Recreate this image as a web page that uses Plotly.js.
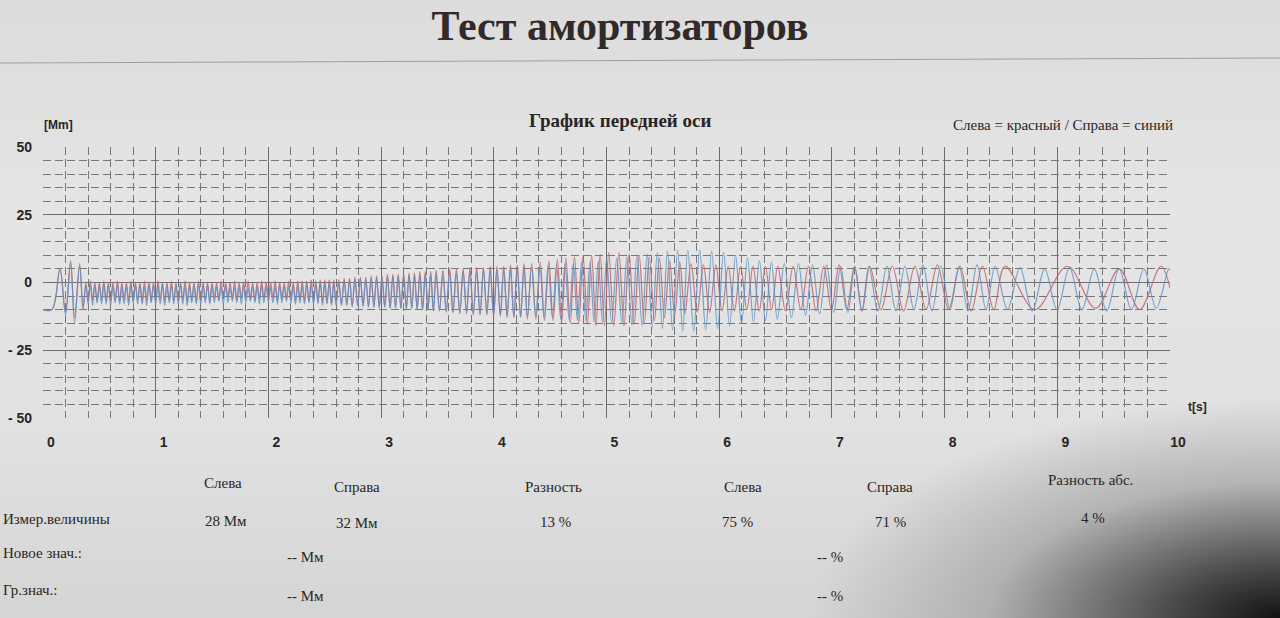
<!DOCTYPE html>
<html>
<head>
<meta charset="utf-8">
<script src="https://cdn.plot.ly/plotly-3.0.1.min.js"></script>
<style>
html,body{margin:0;padding:0;}
body{width:1280px;height:618px;overflow:hidden;
background:
 radial-gradient(ellipse 470px 220px at 100% 100%, rgba(18,18,18,1) 0%, rgba(55,55,55,0.9) 22%, rgba(140,140,140,0.5) 62%, rgba(210,210,210,0) 100%),
 linear-gradient(180deg, #dcdcdc 0%, #e5e5e5 35%, #e1e1e1 70%, #d5d5d5 100%);}
#chart{width:1280px;height:618px;}
</style>
</head>
<body>
<div id="chart"></div>
<script>
// ---------------- DATA ----------------
// start transient (both wheels)
const tStart = [0, 0.08, 0.15, 0.20, 0.245, 0.28, 0.325, 0.355];
const leftStart = [-10, -10, 5, -11, 8, -13, 7, -10];
const rightStart = [-10, -10, 5, -12, 7, -15, 6, -9];

// shared extrema times 0.38 .. 4.298 s (peaks / troughs alternate)
const tShared = [
0.38,0.40,0.42,0.44,0.46,0.48,0.50,0.52,0.54,0.56,0.58,0.60,0.62,0.64,0.66,0.68,0.70,0.72,0.74,0.76,0.78,0.80,0.82,0.84,0.86,0.88,0.90,0.92,0.94,0.96,0.98,1.00,1.02,1.04,1.06,1.08,1.10,1.12,1.14,1.16,1.18,1.20,1.22,1.24,1.26,1.28,1.30,1.32,1.34,1.36,1.38,1.40,1.42,1.44,1.46,1.48,1.50,
1.52,1.54,1.56,1.58,1.60,1.62,1.64,1.66,1.68,1.70,1.72,1.74,1.76,1.78,1.80,1.82,1.84,1.86,1.88,1.90,1.92,1.94,1.96,1.98,2.00,2.02,2.04,2.06,2.08,2.10,2.12,2.14,2.16,2.18,2.20,2.22,2.24,2.26,2.28,2.30,2.32,2.34,2.36,2.38,2.40,2.42,2.44,2.46,2.48,2.50,2.52,2.54,2.56,2.58,2.60,
2.624,2.648,2.672,2.696,2.720,2.744,2.768,2.792,2.816,2.840,2.864,2.888,2.912,2.936,2.960,2.984,3.008,3.032,3.056,3.080,3.104,3.128,3.152,3.176,3.200,3.224,3.248,3.272,3.296,3.320,3.344,3.368,3.392,3.416,3.440,3.464,3.488,
3.518,3.548,3.578,3.608,3.638,3.668,3.698,3.728,3.758,3.788,3.818,3.848,3.878,3.908,3.938,3.968,3.998,4.028,4.058,4.088,4.118,4.148,4.178,4.208,4.238,4.268,4.298];

const leftShared = [
0,-7, 0.5,-6.5, 0,-7, 0,-6.5, 0.5,-7, 0,-7, 0,-6.5, 0.5,-7, 0,-6.5, 0,-7, 0.5,-7, 0,-6.5, 0,-7, 0.5,-6.5, 0,-7, 0,-7, 0.5,-6.5, 0,-7, 0,-6.5, 0.5,-7, 0,-7, 0,-6.5, 0.5,-7, 0,-6.5, 0,-7, 0.5,-7, 0,-6.5, 0,-7, 0,
-6,0, -6.5,0.5, -6,0, -5.5,0, -6,0.5, -6.5,0, -6,0, -5.5,0.5, -6,0, -6.5,0, -6,0.5, -6,0, -5.5,0, -6,0.5, -6.5,0, -6,0, -6,0.5, -6.5,0, -7,0.5, -6.5,0.5, -7,0.5, -7,1, -7.5,0.5, -7,1, -7.5,1, -7.5,1, -8,1, -7.5,
1,-8, 1.5,-8, 1.5,-8.5, 2,-8.5, 2,-8.5, 2,-9, 2.5,-9, 2.5,-9, 2.5,-9, 3,-9.5, 3,-9, 3,-9.5, 3.5,-9.5, 3.5,-9.5, 3.5,-10, 4,-10, 4,-10, 4,-10.5, 4.5,
-10.5,4.5, -11,5, -11,5, -11.5,5, -11.5,5.5, -12,5.5, -12,5.5, -12,6, -12.5,6, -12.5,6, -13,6.5, -13,6.5, -13,7, -13.5];

const rightShared = [
-1,-8, -0.5,-8.5, -1,-7.5, -1.5,-8, -0.5,-8, -1,-8.5, -1,-7.5, -0.5,-8, -1.5,-8, -1,-8.5, -0.5,-7.5, -1,-8, -1,-8, -1.5,-8.5, -0.5,-7.5, -1,-8, -1,-8, -0.5,-8.5, -1.5,-7.5, -1,-8, -1,-8, -0.5,-8, -1,-8.5, -1.5,-7.5, -1,-8, -0.5,-8, -1,-7.5, -1,-8, -1,
-7.5,-1.5, -7,-1.5, -8,-1, -7.5,-2, -7,-1.5, -7.5,-1.5, -8,-1, -7.5,-2, -7,-1.5, -7.5,-1.5, -8,-1, -7.5,-1.5, -7,-2, -7.5,-1.5, -8,-1, -7.5,-1.5, -7,-1.5, -7.5,-1, -8,-1.5, -7.5,-1, -8,-0.5, -7.5,-1, -8,-0.5, -8,0, -8.5,-0.5, -8,0, -8.5,0, -8.5,
0,-8.5, 0.5,-8.5, 0.5,-9, 1,-8.5, 1,-9, 1,-9, 1.5,-9, 1.5,-9.5, 1.5,-9, 2,-9.5, 2,-9.5, 2,-9.5, 2,-10, 2.5,-9.5, 2.5,-10, 2.5,-10, 3,-10, 3,-10.5, 3,
-10.5,3, -10.5,3.5, -11,3.5, -11,4, -11,4, -11.5,4, -11.5,4.5, -11.5,4.5, -12,4.5, -12,5, -12,5, -12.5,5, -12.5,5.5, -12.5];

// Right wheel (blue) after 4.3 s
const tRightLate = [
4.335,4.372,4.409,4.446,4.483,4.520,4.557,4.594,4.631,4.668,4.705,4.742,4.779,4.816,4.853,4.890,4.927,4.964,5.001,
5.046,5.091,5.136,5.181,5.226,5.271,5.316,5.361,5.406,5.451,5.496,5.541,5.586,5.631,5.676,5.721,
5.774,5.827,5.880,5.933,5.986,6.039,6.092,6.145,6.198,6.251,6.304,6.357,6.410,6.463,6.516,
6.578,6.641,6.703,6.766,6.828,6.891,6.953,7.016,7.078,7.141,7.203,7.266,7.328,
7.408,7.488,7.568,7.648,7.728,7.808,7.888,7.968,8.048,8.128,8.208,8.288,8.368,8.448,
8.558,8.668,8.778,8.888,8.998,9.108,9.218,9.328,9.438,9.548,9.658,9.768,9.878,9.988,10.0];
const rightLate = [
5.5,-12.5, 6,-13, 6,-13, 6.5,-13.5, 7,-13.5, 7,-14, 7.5,-14, 7.5,-14.5, 8,-14.5, 8.5,
-15,9, -15,9.5, -15.5,10, -16,10.5, -16.5,11, -17,11.5, -17.5,12, -18,12,
-18,12, -17.5,11.5, -17,11, -16,10, -15,9, -14.5,8, -14,7.5, -13.5,
7,-13, 7,-12, 6.5,-11.5, 6.5,-11, 6,-11, 6,-10.5, 6,
-10.5,6, -10.5,6, -10,6.5, -10.5,6, -10,6, -10.5,6.5, -10,6,
-10,5.5, -10.5,5, -10,5.5, -10,5, -10.5,5, -10,5, -9.5,5, 4.5];

// Left wheel (red) after 4.3 s
const tLeftLate = [
4.336,4.374,4.412,4.450,4.488,4.526,4.564,4.602,4.640,4.678,4.716,4.754,4.792,4.830,4.868,4.906,4.944,4.982,5.020,
5.065,5.110,5.155,5.200,5.245,5.290,5.335,5.380,5.425,5.470,5.515,5.560,5.605,5.650,5.695,
5.750,5.805,5.860,5.915,5.970,6.025,6.080,6.135,6.190,6.245,6.300,6.355,6.410,6.465,6.520,
6.588,6.656,6.724,6.792,6.860,6.928,6.996,7.064,7.132,7.200,7.268,7.336,
7.436,7.536,7.636,7.736,7.836,7.936,8.036,8.136,8.236,8.336,8.436,8.536,
8.80,9.09,9.34,9.55,9.73,9.92,10.0];
const leftLate = [
7,-13.5, 7.5,-14, 8,-14, 8.5,-14.5, 9,-15, 9.5,-15, 10,-15.5, 10,-16, 10.5,-16, 11,
-16,11, -16,10.5, -15.5,10, -15,9.5, -14,9, -13,8, -12,7.5, -11.5,
7,-11, 6.5,-11, 6.5,-10.5, 6,-10.5, 6,-10, 6,-10.5, 6,-10, 6,
-10.5,6, -10,6, -10.5,6, -10,6.5, -10,6, -10.5,6,
-10,6, -10.5,6, -10,6.5, -10,6, -10.5,6, -10,6,
-10,6, -9.5,5, -10,6, -2];

const xTickVals = [0,1,2,3,4,5,6,7,8,9,10];
const yTickVals = [-50,-25,0,25,50];
const yTickText = ['- 50','- 25','0','25','50'];

const seriesNames = ['Слева', 'Справа'];
const tableHeaders = ['Слева','Справа','Разность','Слева','Справа','Разность абс.'];
const tableValues = ['28 Мм','32 Мм','13 %','75 %','71 %','4 %'];
const rowLabels = ['Измер.величины','Новое знач.:','Гр.знач.:'];
const newValues = ['-- Мм','-- %'];
const limitValues = ['-- Мм','-- %'];

// ---------------- LAYOUT / STYLE ----------------
const M = {l:43, r:110, t:147, b:200};
const W = 1280, H = 618;
const PW = W - M.l - M.r, PH = H - M.t - M.b;
const px = x => (x - M.l) / PW;
const py = y => (H - M.b - y) / PH;

const serif = 'Liberation Serif, Times New Roman, serif';
const sans = 'Liberation Sans, Arial, sans-serif';
const ink = '#2a2525';

const xRight = [].concat(tStart, tShared, tRightLate);
const yRight = [].concat(rightStart, rightShared, rightLate);
const xLeft = [].concat(tStart, tShared, tLeftLate);
const yLeft = [].concat(leftStart, leftShared, leftLate);

const traces = [
  {x:xLeft, y:yLeft, name:seriesNames[0], type:'scatter', mode:'lines',
   line:{color:'rgba(190,100,108,0.85)', width:1.2, shape:'spline', smoothing:1, simplify:false}, hoverinfo:'skip'},
  {x:xRight, y:yRight, name:seriesNames[1], type:'scatter', mode:'lines',
   line:{color:'rgba(95,145,195,0.8)', width:1.2, shape:'spline', smoothing:1, simplify:false}, hoverinfo:'skip'}
];

const ann = [];
function txt(text, x, y, size, family, opts) {
  ann.push(Object.assign({text:text, xref:'paper', yref:'paper', x:px(x), y:py(y),
    showarrow:false, xanchor:'center', yanchor:'middle',
    font:{family:family, size:size, color:ink}}, opts||{}));
}
txt('[Mm]', 58, 125, 12, sans, {font:{family:sans, size:12, color:ink, weight:700}});
txt('График передней оси', 620, 120, 19, serif, {font:{family:serif, size:19, color:ink, weight:700}});
txt('Слева = красный / Справа = синий', 1175, 125, 15, serif, {xanchor:'right'});
txt('t[s]', 1197, 407, 12, sans, {font:{family:sans, size:12, color:ink, weight:700}});

const hdrX = [223, 357, 553, 743, 890, 1090];
const hdrY = [483, 487, 487, 487, 487, 480];
const valX = [226, 357, 555, 737, 890, 1093];
const valY = [521, 523, 522, 522, 522, 518];
tableHeaders.forEach((h,i)=>txt(h, hdrX[i], hdrY[i], 15, serif));
tableValues.forEach((v,i)=>txt(v, valX[i], valY[i], 15, serif));
txt(rowLabels[0], 1, 519, 15, serif, {xanchor:'left'});
txt(rowLabels[1], 1, 553, 15, serif, {xanchor:'left'});
txt(rowLabels[2], 1, 590, 15, serif, {xanchor:'left'});
txt(newValues[0], 305, 557, 15, serif);
txt(newValues[1], 830, 557, 15, serif);
txt(limitValues[0], 305, 596, 15, serif);
txt(limitValues[1], 830, 596, 15, serif);

const gridDash = '8px,4px';
const layout = {
  width:W, height:H,
  margin:M,
  paper_bgcolor:'rgba(0,0,0,0)',
  plot_bgcolor:'rgba(0,0,0,0)',
  showlegend:false,
  title:{text:'Тест амортизаторов', x:620/W, xanchor:'center', y:1-25/H, yanchor:'middle', yref:'container',
         font:{family:serif, size:42, color:'#322a2a', weight:700}},
  xaxis:{range:[0,10], tickmode:'array', tickvals:xTickVals, ticktext:xTickVals.map(String),
         showgrid:true, gridcolor:'#6e6e6e', gridwidth:1, zeroline:false, showline:false, ticks:'',
         tickfont:{family:sans, size:14, color:ink, weight:700},
         ticklabelshift:8, ticklabelstandoff:14, fixedrange:true,
         minor:{dtick:0.2, tick0:0, showgrid:true, gridcolor:'#777777', griddash:gridDash, gridwidth:1}},
  yaxis:{range:[-50,50], tickmode:'array', tickvals:yTickVals, ticktext:yTickText,
         showgrid:true, gridcolor:'#6e6e6e', gridwidth:1, zeroline:false, showline:false, ticks:'',
         tickfont:{family:sans, size:14, color:ink, weight:700},
         ticklabelstandoff:10, fixedrange:true,
         minor:{dtick:5, tick0:0, showgrid:true, gridcolor:'#777777', griddash:gridDash, gridwidth:1}},
  annotations:ann,
  shapes:[{type:'line', xref:'paper', yref:'paper', x0:px(0), x1:px(1280), y0:py(63), y1:py(58),
           line:{color:'#a0a0a0', width:1}}]
};

Plotly.newPlot('chart', traces, layout, {displayModeBar:false, staticPlot:true});
</script>
</body>
</html>
